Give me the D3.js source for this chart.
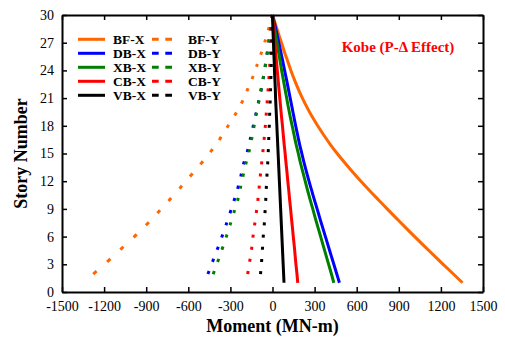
<!DOCTYPE html>
<html>
<head>
<meta charset="utf-8">
<script src="https://cdn.jsdelivr.net/npm/d3@7"></script>
<style>
body{margin:0;background:#fff}
text{font-family:"Liberation Serif","Times New Roman",serif}
</style>
</head>
<body>
<div id="chart"></div>
<script>
var width=505,
    height=338,
    margin={top:15,right:22,bottom:46,left:62};

// story levels 1..30
var stories=d3.range(1,31);

// X direction moments (MN-m), story 1 -> 30
var bfX=[1354,1285,1216,1148,1080,1013,947,882,817,754,691,630,571,515,461,411,365,322,282,246,213,183,156,131,108,85,64,42,21,0];
var dbX=[477,457,437,417,397,377,357,337,318,298,279,260,242,225,209,193,179,165,152,139,126,113,100,86,73,59,45,31,16,0];
var xbX=[437,419,400,381,362,343,324,305,287,268,250,233,216,199,184,168,154,140,126,113,101,89,77,65,54,43,32,21,10,0];
var cbX=[180,174,167,161,155,148,142,135,129,122,116,109,103,96,90,83,77,71,64,58,52,46,40,34,28,22,17,11,6,0];
var vbX=[82,79,76,73,70,67,64,61,58,55,52,49,46,43,40,37,34,31,28,25,22,20,17,14,12,9,7,4,2,0];

// Y direction moments (MN-m), story 1 -> 30
var bfY=[-1343,-1273,-1198,-1126,-1055,-984,-917,-853,-793,-733,-674,-617,-560,-504,-451,-401,-357,-316,-274,-237,-203,-176,-148,-123,-101,-77,-56,-37,-18,0];
var dbY=[-484,-459,-434,-409,-384,-360,-337,-315,-293,-272,-252,-234,-219,-204,-183,-167,-152,-137,-122,-107,-93,-80,-68,-57,-47,-37,-27,-18,-9,0];
var xbY=[-445,-421,-397,-374,-351,-329,-308,-287,-267,-247,-233,-218,-204,-188,-170,-156,-143,-131,-120,-107,-94,-80,-68,-56,-45,-36,-28,-19,-9,0];
var cbY=[-183,-176,-166,-155,-146,-139,-130,-121,-112,-104,-97,-91,-84,-77,-70,-63,-57,-51,-46,-41,-36,-31,-26,-22,-18,-14,-10,-7,-3,0];
var vbY=[-90,-85,-79,-75,-70,-66,-60,-56,-52,-48,-45,-42,-38,-34,-31,-28,-26,-23,-21,-18,-16,-14,-12,-10,-8,-6,-5,-3,-2,0];

var seriesNames=["BF","DB","XB","CB","VB"];
var seriesColors=["#ff6600","#0000ff","#008000","#ff0000","#000000"];
var xSeries=[bfX,dbX,xbX,cbX,vbX];
var ySeries=[bfY,dbY,xbY,cbY,vbY];

var xTicks=[-1500,-1200,-900,-600,-300,0,300,600,900,1200,1500];
var yTicks=[0,3,6,9,12,15,18,21,24,27,30];

var svg=d3.select("#chart")
  .append("svg")
  .attr("width",width)
  .attr("height",height);

var x=d3.scaleLinear().domain([-1500,1500]).range([margin.left,width-margin.right]);
var y=d3.scaleLinear().domain([0,30]).range([height-margin.bottom,margin.top]);

var line=d3.line()
  .x(function(d){return x(d[0]);})
  .y(function(d){return y(d[1]);})
  .curve(d3.curveMonotoneY);

function toPoints(vals){
  // start at the roof so dash pattern runs from the top
  return stories.map(function(s,i){return [vals[i],s];}).reverse();
}

// dashes spaced evenly by story height, like the original plot
function dashByStory(path,periodStories,dashPx){
  var node=path.node(), L=node.getTotalLength();
  var yTop=y(30), P=y(30-periodStories)-yTop, yBot=y(1);
  var samples=[];
  for(var l=0;l<=L;l+=0.25){samples.push([l,node.getPointAtLength(l).y]);}
  function lenAt(yy){
    for(var i=0;i<samples.length;i++){ if(samples[i][1]>=yy) return samples[i][0]; }
    return L;
  }
  var arr=[],prevEnd=0,k=0;
  while(yTop+k*P<yBot){
    var ls=lenAt(yTop+k*P), le=lenAt(yTop+k*P+dashPx);
    if(k>0) arr.push(Math.max(ls-prevEnd,0.01));
    arr.push(Math.max(le-ls,0.01));
    prevEnd=le; k++;
  }
  arr.push(L);
  path.attr("stroke-dasharray",arr.join(","));
}

// Y series (dotted)
ySeries.forEach(function(vals,i){
  var p=svg.append("path")
    .datum(toPoints(vals))
    .attr("fill","none")
    .attr("stroke",seriesColors[i])
    .attr("stroke-width",3)
    .attr("d",line);
  dashByStory(p,1.32,3);
});

// X series (solid)
xSeries.forEach(function(vals,i){
  svg.append("path")
    .datum(toPoints(vals))
    .attr("fill","none")
    .attr("stroke",seriesColors[i])
    .attr("stroke-width",3)
    .attr("d",line);
});

// axes, ticks pointing inward on all four sides
var plain=function(d){return String(d);};
var xAxis=d3.axisBottom(x).tickValues(xTicks).tickFormat(plain).tickSizeInner(-5).tickSizeOuter(0).tickPadding(9);
var yAxis=d3.axisLeft(y).tickValues(yTicks).tickFormat(plain).tickSizeInner(-5).tickSizeOuter(0).tickPadding(8);
var xTop=d3.axisTop(x).tickValues(xTicks).tickSizeInner(-5).tickSizeOuter(0).tickFormat("");
var yRight=d3.axisRight(y).tickValues(yTicks).tickSizeInner(-5).tickSizeOuter(0).tickFormat("");

svg.append("g").attr("transform","translate(0,"+(height-margin.bottom)+")").call(xAxis).attr("class","axis");
svg.append("g").attr("transform","translate("+margin.left+",0)").call(yAxis).attr("class","axis");
svg.append("g").attr("transform","translate(0,"+margin.top+")").call(xTop).attr("class","axis");
svg.append("g").attr("transform","translate("+(width-margin.right)+",0)").call(yRight).attr("class","axis");

svg.selectAll(".axis .domain").attr("stroke","#000").attr("stroke-width",2);
svg.selectAll(".axis .tick line").attr("stroke","#000").attr("stroke-width",1.5);
svg.selectAll(".axis text")
  .attr("font-family","'Liberation Serif','Times New Roman',serif")
  .attr("font-size",14)
  .attr("fill","#000");

// axis titles
svg.append("text")
  .attr("x",(x(-1500)+x(1500))/2)
  .attr("y",332)
  .attr("text-anchor","middle")
  .attr("font-size",18)
  .attr("font-weight","bold")
  .text("Moment (MN-m)");

svg.append("text")
  .attr("transform","translate(27,"+((y(0)+y(30))/2)+") rotate(-90)")
  .attr("text-anchor","middle")
  .attr("font-size",18)
  .attr("font-weight","bold")
  .text("Story Number");

// title inside plot
svg.append("text")
  .attr("x",398)
  .attr("y",52)
  .attr("text-anchor","middle")
  .attr("font-size",15)
  .attr("font-weight","bold")
  .attr("fill","#ff0000")
  .text("Kobe (P-\u0394 Effect)");

// legend
var legend=svg.append("g");
seriesNames.forEach(function(name,i){
  var ly=39.3+i*14;
  legend.append("line")
    .attr("x1",78).attr("x2",105).attr("y1",ly).attr("y2",ly)
    .attr("stroke",seriesColors[i]).attr("stroke-width",3);
  legend.append("text")
    .attr("x",113).attr("y",ly).attr("dy","0.35em")
    .attr("font-size",13.5).attr("font-weight","bold")
    .text(name+"-X");
  legend.append("line")
    .attr("x1",152).attr("x2",172).attr("y1",ly).attr("y2",ly)
    .attr("stroke",seriesColors[i]).attr("stroke-width",3)
    .attr("stroke-dasharray","6.7,6.6");
  legend.append("text")
    .attr("x",188).attr("y",ly).attr("dy","0.35em")
    .attr("font-size",13.5).attr("font-weight","bold")
    .text(name+"-Y");
});
</script>
</body>
</html>
